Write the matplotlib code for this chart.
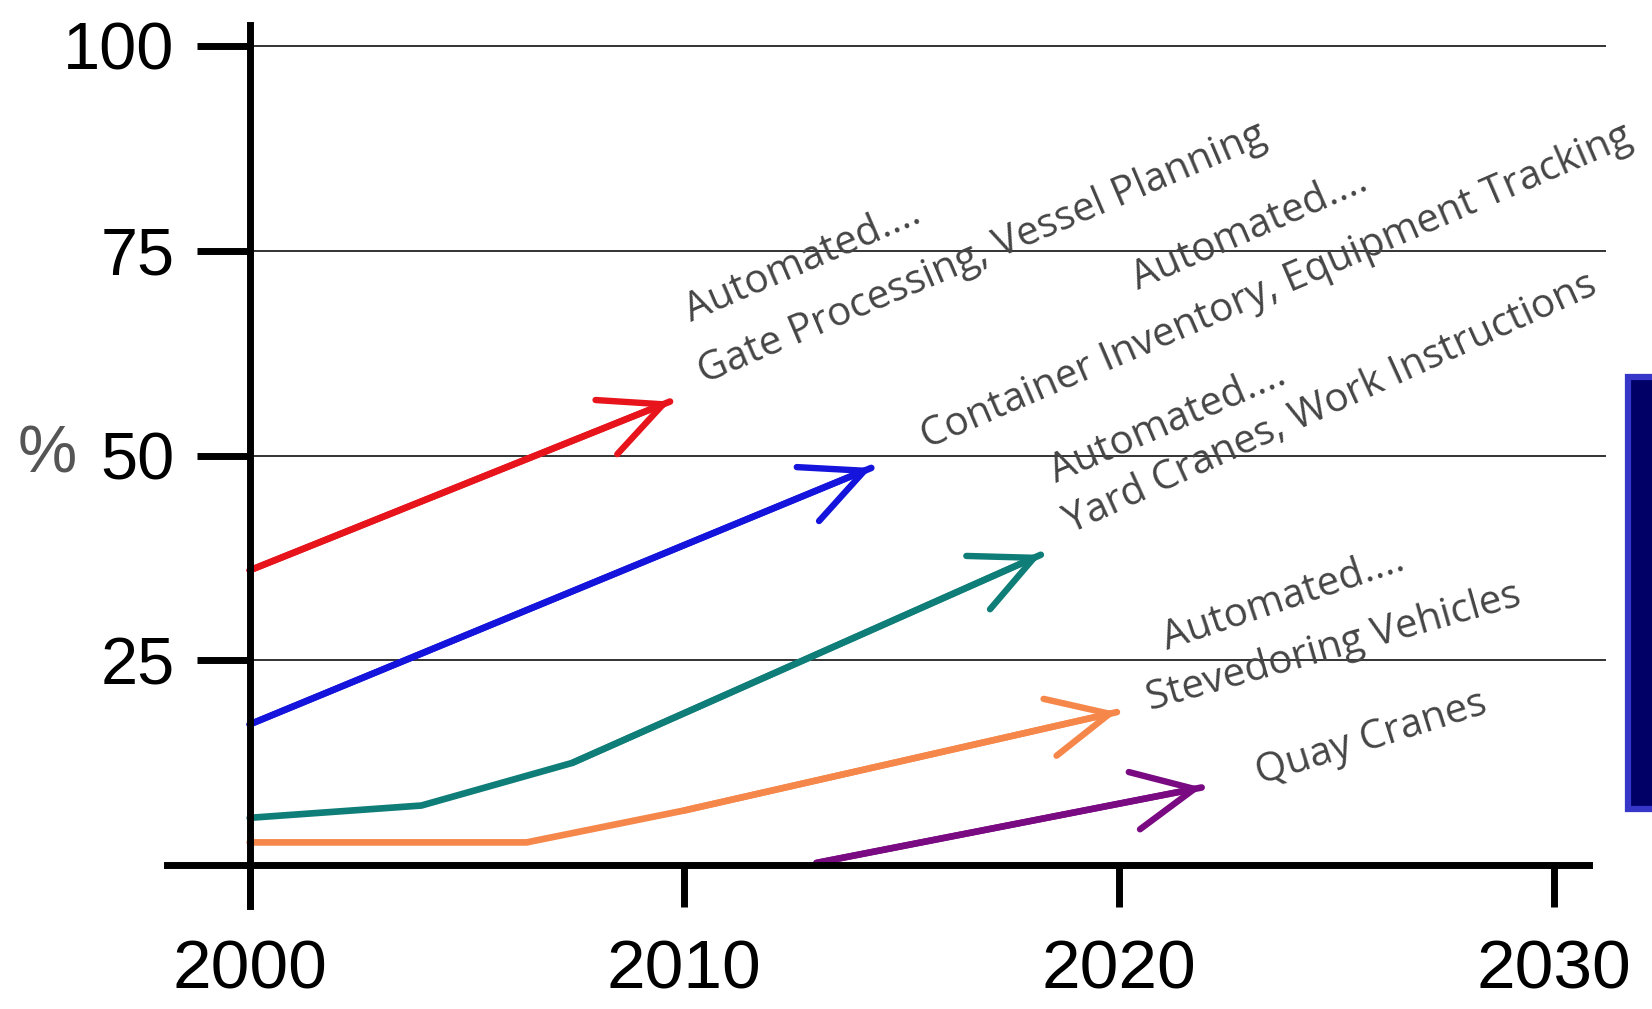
import numpy as np
import matplotlib
matplotlib.use("Agg")
import matplotlib.pyplot as plt
from matplotlib.patches import Rectangle

# adoption curves (year, percent)
red_x = [2000, 2009.67]
red_y = [36.0, 56.6]
blue_x = [2000, 2014.3]
blue_y = [17.2, 48.5]
teal_x = [2000, 2003.95, 2007.42, 2018.2]
teal_y = [5.8, 7.3, 12.5, 37.9]
orange_x = [2000, 2006.37, 2010.0, 2019.95]
orange_y = [2.8, 2.8, 6.7, 18.7]
purple_x = [2013.04, 2021.9]
purple_y = [0.3, 9.5]

x_ticks = [2000, 2010, 2020, 2030]
y_ticks = [25, 50, 75, 100]

labels = ["Automated....",
          "Gate Processing, Vessel Planning",
          "Automated....",
          "Container Inventory, Equipment Tracking",
          "Automated....",
          "Yard Cranes, Work Instructions",
          "Automated....",
          "Stevedoring Vehicles",
          "Quay Cranes"]
# baseline start (data coords) and angle for every label
label_pos = [(2010.16, 66.3), (2010.45, 58.8), (2020.43, 70.2),
             (2015.58, 50.8), (2018.56, 46.7), (2018.90, 40.5),
             (2021.11, 26.3), (2020.72, 18.9), (2023.24, 9.9)]
label_rot = [23.4, 23.1, 23.5, 23.3, 23.3, 24.5, 18.6, 15.8, 17.4]

series = [(red_x, red_y, "#e8141c"),
          (blue_x, blue_y, "#1414dc"),
          (teal_x, teal_y, "#0f7d78"),
          (orange_x, orange_y, "#f5874a"),
          (purple_x, purple_y, "#7a0a82")]

fig = plt.figure(figsize=(16.52, 10.09), dpi=100)
ax = fig.add_axes([0.08535, 0.0774, 0.9078, 0.9177])
ax.set_xlim(1997.5, 2032)
ax.set_ylim(-8, 105)

# grid lines
ax.hlines(y_ticks, 2000, 2031.2, color="#333333", lw=1.4, zorder=1)

for xs, ys, c in series:
    ax.plot(xs, ys, color=c, lw=4.8, solid_capstyle="round", zorder=3)
    ax.annotate("", xy=(xs[-1], ys[-1]), xytext=(xs[-2], ys[-2]),
                arrowprops=dict(arrowstyle="->,head_length=4.4,head_width=2.1",
                                color=c, lw=4.6, mutation_scale=10,
                                shrinkA=0, shrinkB=0, capstyle="round"),
                zorder=3)

# axes
for s in ["top", "right"]:
    ax.spines[s].set_visible(False)
ax.spines["left"].set_position(("data", 2000))
ax.spines["left"].set_bounds(-5, 102.5)
ax.spines["bottom"].set_position(("data", 0))
ax.spines["bottom"].set_bounds(1998.1, 2030.8)
for s in ["left", "bottom"]:
    ax.spines[s].set_linewidth(5)
    ax.spines[s].set_zorder(4)

ax.set_yticks(y_ticks)
ax.set_yticklabels([str(v) for v in y_ticks], fontfamily="Liberation Sans", fontsize=48)
ax.set_xticks(x_ticks)
ax.set_xticklabels([str(v) for v in x_ticks], fontfamily="Liberation Sans", fontsize=50)
ax.tick_params(axis="y", length=38, width=5, pad=16)
ax.tick_params(axis="x", length=30, width=5, pad=23)

ax.text(1995.35, 50, "%", fontfamily="Liberation Sans", fontsize=48,
        color="#555555", ha="center", va="center")

for t, (px, py), r in zip(labels, label_pos, label_rot):
    ax.text(px, py, t, rotation=r, rotation_mode="anchor", ha="left",
            va="baseline", fontfamily="Open Sans", fontsize=29, color="#454545",
            zorder=5)

# clipped box at right edge
box = Rectangle((1628 / 1652, 1 - 809 / 1009), 0.05, 432 / 1009,
                transform=fig.transFigure, facecolor="#000066",
                edgecolor="#3636c8", lw=4.5)
fig.patches.append(box)
side = fig.text(1646 / 1652, 1 - 593 / 1009, "Terminal Processes -", rotation=270,
                color="white", fontsize=26, ha="left", va="center")
side.set_clip_path(box)

fig.savefig("out.png", dpi=100)
